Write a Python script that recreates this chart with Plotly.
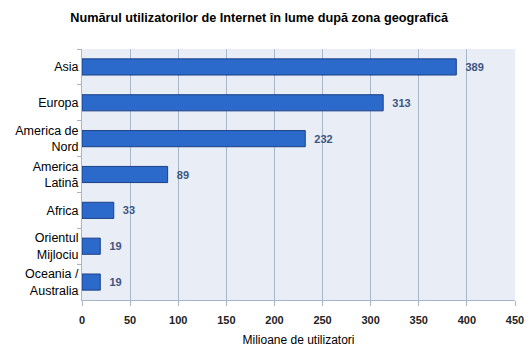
import plotly.graph_objects as go

categories = ["Asia", "Europa", "America de<br>Nord", "America<br>Latină", "Africa",
              "Orientul<br>Mijlociu", "Oceania /<br>Australia"]
values = [389, 313, 232, 89, 33, 19, 19]
x_ticks = [0, 50, 100, 150, 200, 250, 300, 350, 400, 450]

fig = go.Figure()
fig.add_trace(go.Bar(
    y=categories, x=values, orientation="h",
    width=0.45,
    marker=dict(color="#2b6acb", line=dict(color="#1b3f86", width=1)),
    text=[f"<b>  {v}</b>" for v in values], textposition="outside",
    textfont=dict(family="Liberation Sans", size=11, color="#3d5582"),
    cliponaxis=False,
    hoverinfo="skip",
))

fig.update_layout(
    width=529, height=358,
    margin=dict(l=82, r=14, t=49, b=58),
    paper_bgcolor="white",
    plot_bgcolor="#e9edf5",
    showlegend=False,
    title=dict(text="<b>Numărul utilizatorilor de Internet în lume după zona geografică</b>",
               x=0.49, xanchor="center", y=0.95, yanchor="middle",
               font=dict(family="Liberation Sans", size=12.7, color="black")),
    xaxis=dict(range=[0, 450], tickvals=x_ticks, ticktext=[f"<b>{t}</b>" for t in x_ticks],
               automargin=False,
               showgrid=True, gridcolor="#a9b6ca", gridwidth=1,
               ticks="outside", ticklen=5, tickcolor="#a9b6ca",
               ticklabelstandoff=5,
               showline=True, linecolor="#a9b6ca", zeroline=False,
               tickfont=dict(family="Liberation Sans", size=11, color="#222"),
               title=dict(text="Milioane de utilizatori", standoff=10,
                          font=dict(family="Liberation Sans", size=12, color="black"))),
    yaxis=dict(autorange="reversed", showgrid=False, automargin=False,
               ticks="outside", tickson="boundaries", ticklen=4, tickcolor="#a9b6ca",
               showline=True, linecolor="#a9b6ca",
               tickfont=dict(family="Liberation Sans", size=12.5, color="black")),
)

fig.write_html("out.html", config={"displayModeBar": False},
               post_script="document.body.style.margin='0';document.body.style.overflow='hidden';")
